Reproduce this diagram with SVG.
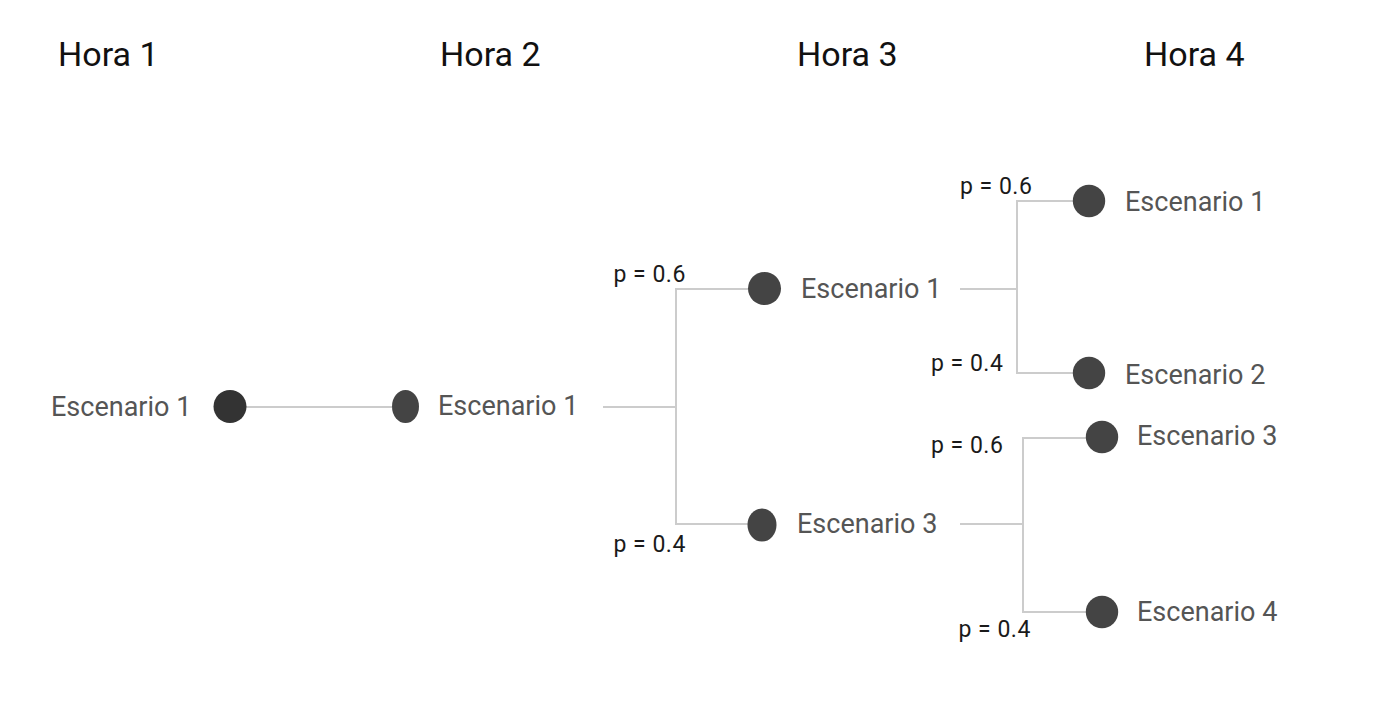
<svg xmlns="http://www.w3.org/2000/svg" width="1399" height="702" viewBox="0 0 1399 702">
<style>
.hdr{font-family:Roboto,"Liberation Sans",sans-serif;font-size:34px;fill:#111}
.lbl{font-family:Roboto,"Liberation Sans",sans-serif;font-size:27px;fill:#555}
.p{font-family:Roboto,"Liberation Sans",sans-serif;font-size:23px;letter-spacing:0.5px;fill:#1a1a1a}
.ln{fill:none;stroke:#cccccc;stroke-width:2}
.dot{fill:#444}
</style>
<rect width="1399" height="702" fill="#fff"/>
<g id="headers">
<text class="hdr" x="58" y="66">Hora 1</text>
<text class="hdr" x="440" y="66">Hora 2</text>
<text class="hdr" x="797" y="66">Hora 3</text>
<text class="hdr" x="1144" y="66">Hora 4</text>
</g>
<g id="connectors">
<line class="ln" x1="246" y1="407" x2="392" y2="407"/>
<path class="ln" d="M603 407H676M748 289H676V524H748"/>
<path class="ln" d="M960 289H1017M1073 201H1017V373H1073"/>
<path class="ln" d="M960 524H1023M1086 438H1023V612H1086"/>
</g>
<g id="labels">
<text class="p" x="613.5" y="282">p = 0.6</text>
<text class="p" x="613.5" y="552">p = 0.4</text>
<text class="p" x="960" y="194">p = 0.6</text>
<text class="p" x="931" y="371">p = 0.4</text>
<text class="p" x="931" y="453">p = 0.6</text>
<text class="p" x="958.5" y="637">p = 0.4</text>
</g>
<g id="n_h1_e1">
<circle cx="230" cy="406.5" r="16.5" fill="#333"/>
<text class="lbl" x="51" y="416">Escenario 1</text>
</g>
<g id="n_h2_e1">
<ellipse class="dot" cx="405.5" cy="406.5" rx="13.5" ry="16.5"/>
<text class="lbl" x="438" y="415">Escenario 1</text>
</g>
<g id="n_h3_e1">
<circle class="dot" cx="764.5" cy="288.5" r="16.5"/>
<text class="lbl" x="801" y="298">Escenario 1</text>
</g>
<g id="n_h3_e3">
<ellipse class="dot" cx="762" cy="525" rx="14.5" ry="16.5"/>
<text class="lbl" x="797" y="533">Escenario 3</text>
</g>
<g id="n_h4_e1">
<circle class="dot" cx="1089" cy="201" r="16.2"/>
<text class="lbl" x="1125" y="211">Escenario 1</text>
</g>
<g id="n_h4_e2">
<circle class="dot" cx="1089" cy="373" r="16.2"/>
<text class="lbl" x="1125" y="384">Escenario 2</text>
</g>
<g id="n_h4_e3">
<circle class="dot" cx="1102" cy="437" r="16.2"/>
<text class="lbl" x="1137" y="445">Escenario 3</text>
</g>
<g id="n_h4_e4">
<circle class="dot" cx="1102" cy="612" r="16.2"/>
<text class="lbl" x="1137" y="621">Escenario 4</text>
</g>
</svg>
